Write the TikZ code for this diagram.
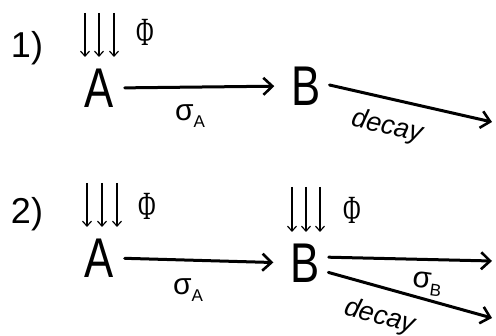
\documentclass[tikz,border=0pt]{standalone}
\usepackage{fontspec}
\setmainfont{Liberation Sans}
\newfontfamily\grk{Liberation Serif}
\usetikzlibrary{arrows.meta}
\newcommand\sigsub[1]{σ\raisebox{-0.4ex}{\fontsize{17}{17}\selectfont #1}}
\begin{document}
\begin{tikzpicture}[x=1pt,y=-1pt,
  big/.style={inner sep=0pt,font=\fontsize{56}{56}\selectfont,xscale=0.78,transform shape},
  num/.style={inner sep=0pt,font=\fontsize{36}{36}\selectfont},
  phi/.style={inner sep=0pt,font=\grk\fontsize{40}{40}\selectfont,xscale=0.6,transform shape},
  lbl/.style={inner sep=0pt,font=\fontsize{30}{30}\selectfont},
  dlbl/.style={inner sep=0pt,font=\itshape\fontsize{27}{27}\selectfont},
  main/.style={line width=3pt,-{Straight Barb[length=9pt,width=17pt,line width=2.6pt]},line cap=round},
  flux/.style={line width=1.3pt,-{Straight Barb[length=5pt,width=9pt,line width=1.2pt]}}]
\useasboundingbox (0,0) rectangle (496,336);
% ---------- 1) ----------
\node[num] (n1) at (27,48) {1)};
\node[big] (A1) at (99,88) {A};
\node[big] (B1) at (306,86) {B};
\coordinate (E1) at (492,122);
\node[phi] (P1) at (145,32) {Φ};
\foreach \x in {85,99,114} \draw[flux] (\x,13) -- (\x,57);
\draw[main,shorten <=11pt,shorten >=17pt] (A1.east) -- (B1.west);
\draw[main,shorten <=9pt] ([yshift=3pt]B1.east) -- (E1);
\node[lbl] (sA1) at (190,116) {\sigsub{A}};
\node[dlbl,rotate=-13] (d1) at (387,127) {decay};
% ---------- 2) ----------
\node[num] (n2) at (27,214) {2)};
\node[big] (A2) at (99,258) {A};
\node[big] (B2) at (305,263) {B};
\coordinate (E2) at (492,261);
\coordinate (F2) at (492,318);
\node[phi] (P2) at (147,206) {Φ};
\node[phi] (P3) at (352,210) {Φ};
\foreach \x in {87,102,117} \draw[flux] (\x,183) -- (\x,227);
\foreach \x in {292,306,320} \draw[flux] (\x,187) -- (\x,232);
\draw[main,shorten <=11pt,shorten >=17pt] (A2.east) -- (B2.west);
\draw[main,shorten <=9pt] ([yshift=6pt]B2.east) -- (E2);
\draw[main,shorten <=9pt] ([yshift=-7pt]B2.east) -- (F2);
\node[lbl] (sA2) at (188,290) {\sigsub{A}};
\node[lbl,rotate=-8] (sB) at (427,284) {\sigsub{B}};
\node[dlbl,rotate=-15] (d2) at (380,317) {decay};
\end{tikzpicture}
\end{document}
